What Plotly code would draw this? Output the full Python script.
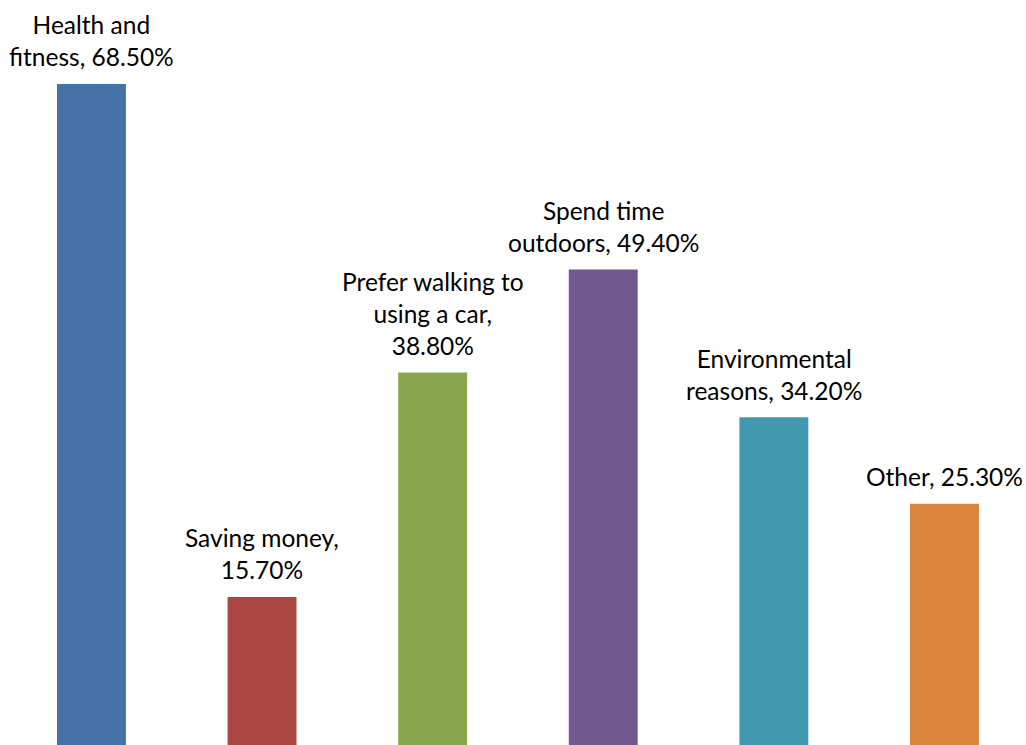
import plotly.graph_objects as go

categories = ["Health and fitness", "Saving money", "Prefer walking to using a car",
              "Spend time outdoors", "Environmental reasons", "Other"]
values = [68.5, 15.7, 38.8, 49.4, 34.2, 25.3]
label_texts = ["Health and<br>fitness, 68.50%", "Saving money,<br>15.70%",
               "Prefer walking to<br>using a car,<br>38.80%", "Spend time<br>outdoors, 49.40%",
               "Environmental<br>reasons, 34.20%", "Other, 25.30%"]
colors = ["#4572A7", "#AA4643", "#89A54E", "#71588F", "#4198AF", "#DB843D"]

xs = list(range(len(categories)))
fig = go.Figure(go.Bar(x=xs, y=values, marker=dict(color=colors, line=dict(width=0)),
                       width=0.404, hoverinfo="skip"))

for x, v, t in zip(xs, values, label_texts):
    fig.add_annotation(x=x, y=v, text=t, showarrow=False, yanchor="bottom",
                       yshift=10.5, font=dict(family="Lato", size=24.5, color="#000000"))

fig.update_layout(
    width=1026, height=745,
    margin=dict(l=0, r=0, t=0, b=0),
    paper_bgcolor="white", plot_bgcolor="white",
    showlegend=False,
    xaxis=dict(range=[-0.536, 5.478], visible=False),
    yaxis=dict(range=[0.46, 77.14], visible=False),
)
fig.write_html("out.html")
